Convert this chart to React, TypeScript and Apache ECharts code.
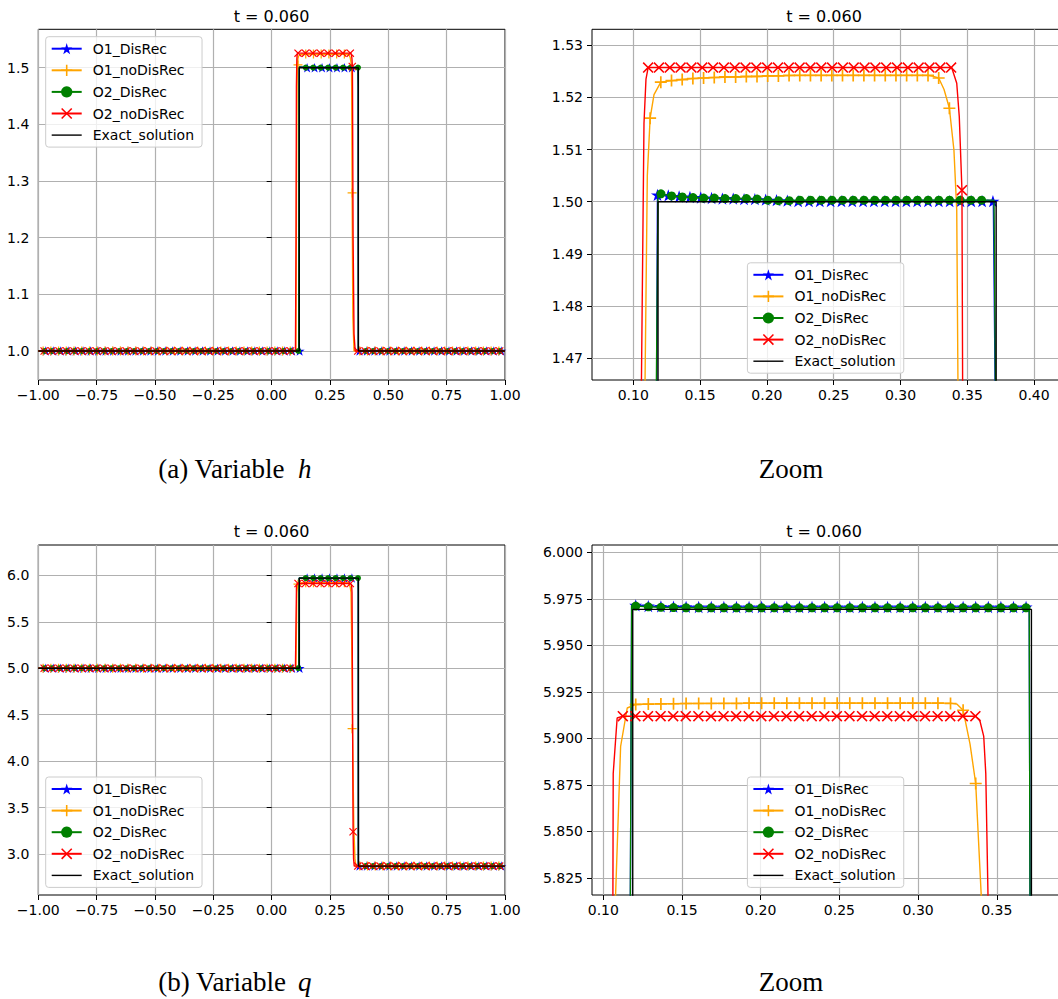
import React, { useEffect, useRef } from 'react';
import * as echarts from 'echarts';

const NAMES = ['O1_DisRec', 'O1_noDisRec', 'O2_DisRec', 'O2_noDisRec', 'Exact_solution'];
const COLORS = ['#0000ff', '#ffa500', '#008000', '#ff0000', '#000000'];
const STAR = 'path://M0,-100L22.45,-30.9L95.11,-30.9L36.33,11.8L58.78,80.9L0,38.2L-58.78,80.9L-36.33,11.8L-95.11,-30.9L-22.45,-30.9Z';
const PLUS = 'path://M-50,-7H50V7H-50Z M-7,-50H7V50H-7Z';
const CROSS = 'path://M-50,-40L-40,-50L0,-10L40,-50L50,-40L10,0L50,40L40,50L0,10L-40,50L-50,40L-10,0Z';
const SYMBOLS = [STAR, PLUS, 'circle', CROSS];
const EXACT_ICON = 'path://M0,0H30V1.4H0Z';
const TITLE = 't = 0.060';
const FONT = "'DejaVu Sans', sans-serif";
const SERIF = "'Liberation Serif', serif";

// ---------- variable h : solution profiles (x, h) ----------
const hPathO1DisRec = [[-1, 1], [0.1165, 1], [0.1175, 1.4658], [0.1181, 1.5013], [0.1262, 1.5012], [0.1343, 1.501], [0.1424, 1.5009], [0.1505, 1.5008], [0.1586, 1.5007], [0.1667, 1.5006], [0.1748, 1.5006], [0.1829, 1.5005], [0.191, 1.5005], [0.1991, 1.5004], [0.2072, 1.5003], [0.2153, 1.5002], [0.2234, 1.5001], [0.3695, 1.5001], [0.3708, 1.4658], [0.3716, 1], [1, 1]];
const hPathO1NoDisRec = [[-1, 1], [0.104, 1], [0.1065, 1.3], [0.1088, 1.4658], [0.1105, 1.505], [0.1126, 1.516], [0.1155, 1.5205], [0.1206, 1.5229], [0.1286, 1.5232], [0.1366, 1.5234], [0.1446, 1.5236], [0.1526, 1.5237], [0.1606, 1.5238], [0.1766, 1.5239], [0.1926, 1.524], [0.2086, 1.5241], [0.2246, 1.5242], [0.3206, 1.5242], [0.3246, 1.524], [0.3286, 1.5237], [0.3326, 1.5215], [0.3366, 1.5179], [0.34, 1.5099], [0.3421, 1.4984], [0.343, 1.4658], [0.3448, 1.279], [0.348, 1.06], [0.353, 1], [1, 1]];
const hPathO2DisRec = [[-1, 1], [0.1163, 1], [0.1173, 1.4658], [0.1185, 1.5015], [0.1207, 1.5015], [0.1287, 1.5011], [0.1367, 1.5009], [0.1447, 1.5008], [0.1527, 1.5007], [0.1607, 1.5007], [0.1687, 1.5006], [0.1767, 1.5006], [0.1847, 1.5006], [0.1927, 1.5005], [0.2007, 1.5003], [0.2087, 1.5002], [0.2167, 1.5002], [0.2247, 1.5003], [0.37, 1.5003], [0.371, 1.4658], [0.3716, 1], [1, 1]];
const hPathO2NoDisRec = [[-1, 1], [0.102, 1], [0.1045, 1.2], [0.1061, 1.4658], [0.108, 1.515], [0.1095, 1.5235], [0.1111, 1.5257], [0.3383, 1.5257], [0.3421, 1.5227], [0.344, 1.5163], [0.346, 1.5022], [0.3465, 1.4658], [0.349, 1.2], [0.353, 1.03], [0.358, 1], [1, 1]];
const hPathExact = [[-1, 1], [0.1185, 1], [0.1185, 1.5], [0.3716, 1.5], [0.3716, 1], [1, 1]];

// ---------- variable q : solution profiles (x, q) ----------
const qPathO1DisRec = [[-1, 5], [0.1163, 5], [0.1172, 5.8159], [0.118, 5.9716], [0.1206, 5.9716], [0.1286, 5.9712], [0.1366, 5.971], [0.1446, 5.9709], [0.1526, 5.9708], [0.1606, 5.9707], [0.3706, 5.9707], [0.3711, 5.8159], [0.3718, 2.87], [1, 2.87]];
const qPathO1NoDisRec = [[-1, 5], [0.104, 5], [0.1065, 5.5], [0.1078, 5.8159], [0.111, 5.8957], [0.1152, 5.9164], [0.1206, 5.9183], [0.1286, 5.9185], [0.1366, 5.9186], [0.1446, 5.9187], [0.1526, 5.9188], [0.1926, 5.919], [0.3206, 5.919], [0.3246, 5.9185], [0.3286, 5.9152], [0.333, 5.897], [0.3366, 5.8758], [0.3401, 5.8159], [0.343, 5.3], [0.3465, 4.349], [0.352, 3.3], [0.357, 2.95], [0.361, 2.87], [1, 2.87]];
const qPathO2DisRec = [[-1, 5], [0.1163, 5], [0.1172, 5.8159], [0.118, 5.9712], [0.1206, 5.9712], [0.1286, 5.9708], [0.1366, 5.9705], [0.1446, 5.9704], [0.1526, 5.9703], [0.3706, 5.9703], [0.3711, 5.8159], [0.3716, 2.87], [1, 2.87]];
const qPathO2NoDisRec = [[-1, 5], [0.102, 5], [0.1045, 5.5], [0.1061, 5.8159], [0.1063, 5.8812], [0.1088, 5.911], [0.1124, 5.912], [0.3364, 5.912], [0.3391, 5.9101], [0.3417, 5.9011], [0.343, 5.8812], [0.3444, 5.8159], [0.346, 5], [0.349, 3.24], [0.351, 2.95], [0.354, 2.87], [1, 2.87]];
const qPathExact = [[-1, 5], [0.1187, 5], [0.1187, 5.9694], [0.372, 5.9694], [0.372, 2.87], [1, 2.87]];

// ---------- markers, full domain panels (mesh start / spacing of the marked cells) ----------
const FULL_MARK_START = [-0.968, -0.9793, -0.974, -0.9749];
const FULL_MARK_STEP = [0.032, 0.0331, 0.032, 0.032];
const hFullLevels = [[1.0, 1.5001, 1.0], [1.0, 1.524, 1.0], [1.0, 1.5002, 1.0], [1.0, 1.5257, 1.0]];
const hFullBreaks = [[0.121, 0.3715], [0.108, 0.343], [0.118, 0.3716], [0.108, 0.345]];
const hFullOverrides = [[], [[33, 1.505], [40, 1.279]], [], []];
const hFullExtras = [[], [], [], [[0.3455, 1.5022]]];
const qFullLevels = [[5.0, 5.9707, 2.87], [5.0, 5.919, 2.87], [5.0, 5.9703, 2.87], [5.0, 5.912, 2.87]];
const qFullBreaks = [[0.121, 0.3715], [0.108, 0.343], [0.118, 0.3716], [0.108, 0.345]];
const qFullOverrides = [[], [[33, 5.905], [40, 4.349]], [], []];
const qFullExtras = [[], [], [], [[0.349, 3.24]]];

// ---------- markers, zoom panels ----------
const hZoomStart = [0.1181, 0.1126, 0.1207, 0.1111];
const hZoomStep = [0.0081, 0.008, 0.008, 0.0081];
const hZoomO1DisRec = [1.5013, 1.5012, 1.501, 1.5009, 1.5008, 1.5007, 1.5006, 1.5006, 1.5005, 1.5005, 1.5004, 1.5003, 1.5002, 1.5001, 1.5001, 1.5001, 1.5001, 1.5001, 1.5001, 1.5001, 1.5001, 1.5001, 1.5001, 1.5001, 1.5001, 1.5001, 1.5001, 1.5001, 1.5001, 1.5001, 1.5001, 1.5001];
const hZoomO1NoDisRec = [1.516, 1.5229, 1.5232, 1.5234, 1.5236, 1.5237, 1.5238, 1.5239, 1.5239, 1.524, 1.524, 1.5241, 1.5241, 1.5242, 1.5242, 1.5242, 1.5242, 1.5242, 1.5242, 1.5242, 1.5242, 1.5242, 1.5242, 1.5242, 1.5242, 1.5242, 1.5242, 1.5237, 1.5179];
const hZoomO2DisRec = [1.5015, 1.5011, 1.5009, 1.5008, 1.5007, 1.5007, 1.5006, 1.5006, 1.5006, 1.5005, 1.5003, 1.5002, 1.5002, 1.5003, 1.5003, 1.5003, 1.5003, 1.5003, 1.5003, 1.5003, 1.5003, 1.5003, 1.5003, 1.5003, 1.5003, 1.5003, 1.5003, 1.5003, 1.5003, 1.5003, 1.5003];
const hZoomO2NoDisRec = [1.5257, 1.5257, 1.5257, 1.5257, 1.5257, 1.5257, 1.5257, 1.5257, 1.5257, 1.5257, 1.5257, 1.5257, 1.5257, 1.5257, 1.5257, 1.5257, 1.5257, 1.5257, 1.5257, 1.5257, 1.5257, 1.5257, 1.5257, 1.5257, 1.5257, 1.5257, 1.5257, 1.5257, 1.5257, 1.5022];
const qZoomStart = [0.1206, 0.1206, 0.1206, 0.1124];
const qZoomStep = [0.008, 0.008, 0.008, 0.008];
const qZoomO1DisRec = [5.9716, 5.9712, 5.971, 5.9709, 5.9708, 5.9707, 5.9707, 5.9707, 5.9707, 5.9707, 5.9707, 5.9707, 5.9707, 5.9707, 5.9707, 5.9707, 5.9707, 5.9707, 5.9707, 5.9707, 5.9707, 5.9707, 5.9707, 5.9707, 5.9707, 5.9707, 5.9707, 5.9707, 5.9707, 5.9707, 5.9707, 5.9707];
const qZoomO1NoDisRec = [5.9183, 5.9185, 5.9186, 5.9187, 5.9188, 5.9188, 5.9188, 5.9188, 5.9188, 5.919, 5.919, 5.919, 5.919, 5.919, 5.919, 5.919, 5.919, 5.919, 5.919, 5.919, 5.919, 5.919, 5.919, 5.919, 5.919, 5.9188, 5.9152, 5.8758];
const qZoomO2DisRec = [5.9712, 5.9708, 5.9705, 5.9704, 5.9703, 5.9703, 5.9703, 5.9703, 5.9703, 5.9703, 5.9703, 5.9703, 5.9703, 5.9703, 5.9703, 5.9703, 5.9703, 5.9703, 5.9703, 5.9703, 5.9703, 5.9703, 5.9703, 5.9703, 5.9703, 5.9703, 5.9703, 5.9703, 5.9703, 5.9703, 5.9703, 5.9703];
const qZoomO2NoDisRec = [5.912, 5.912, 5.912, 5.912, 5.912, 5.912, 5.912, 5.912, 5.912, 5.912, 5.912, 5.912, 5.912, 5.912, 5.912, 5.912, 5.912, 5.912, 5.912, 5.912, 5.912, 5.912, 5.912, 5.912, 5.912, 5.912, 5.912, 5.912, 5.912];

// ---------- ticks ----------
const fullXTicks = [-1, -0.75, -0.5, -0.25, 0, 0.25, 0.5, 0.75, 1];
const hFullYTicks = [1.0, 1.1, 1.2, 1.3, 1.4, 1.5];
const qFullYTicks = [3.0, 3.5, 4.0, 4.5, 5.0, 5.5, 6.0];
const hZoomXTicks = [0.1, 0.15, 0.2, 0.25, 0.3, 0.35, 0.4];
const hZoomYTicks = [1.47, 1.48, 1.49, 1.5, 1.51, 1.52, 1.53];
const qZoomXTicks = [0.1, 0.15, 0.2, 0.25, 0.3, 0.35];
const qZoomYTicks = [5.825, 5.85, 5.875, 5.9, 5.925, 5.95, 5.975, 6.0];

function fmt(v: number, d: number) {
  return Number(v).toFixed(d).replace('-', '\u2212');
}

function fullMarkers(i: number, levels: number[][], breaks: number[][], overrides: number[][][], extras: number[][][]) {
  const pts: number[][] = [];
  for (let k = 0; k < 200; k++) {
    const x = +(FULL_MARK_START[i] + k * FULL_MARK_STEP[i]).toFixed(4);
    if (x > 1.0001) break;
    let y = x < breaks[i][0] ? levels[i][0] : x < breaks[i][1] ? levels[i][1] : levels[i][2];
    const o = overrides[i].find((e) => e[0] === k);
    if (o) y = o[1];
    pts.push([x, y]);
  }
  return pts.concat(extras[i]);
}

function zoomMarkers(start: number, step: number, ys: number[]) {
  return ys.map((y, k) => [+(start + k * step).toFixed(4), y]);
}

function axis(gi: number, min: number, max: number, step: number, ticks: number[], dec: number, isX: boolean) {
  return {
    type: 'value', gridIndex: gi, min, max, minInterval: step, maxInterval: step,
    splitNumber: Math.round((max - min) / step),
    axisLine: { show: false },
    axisTick: { show: true, inside: false, length: 5, lineStyle: { color: '#000', width: 1 }, customValues: ticks },
    axisLabel: { show: true, customValues: ticks, formatter: (v: number) => fmt(v, dec), color: '#000', fontSize: 14, fontFamily: FONT, margin: isX ? 8 : 9 },
    splitLine: { show: true, lineStyle: { color: '#b0b0b0', width: 1.2 } },
  };
}

function grid(left: number, top: number, height: number) {
  return { left, top, width: 466.7, height, show: true, borderColor: '#000', borderWidth: 1, backgroundColor: 'rgba(0,0,0,0)', containLabel: false, outerBoundsMode: 'none' };
}

function legendAt(left: number, top: number) {
  return {
    orient: 'vertical', left, top, itemWidth: 30, itemHeight: 14, itemGap: 7.6, padding: [5, 8, 5, 5],
    backgroundColor: 'rgba(255,255,255,0.8)', borderColor: '#cccccc', borderWidth: 1, borderRadius: 3,
    selectedMode: false, z: 50,
    textStyle: { fontFamily: FONT, fontSize: 14, color: '#000', padding: [0, 0, 0, 6] },
    data: NAMES.map((n, i) => (i === 4 ? { name: n, icon: EXACT_ICON } : { name: n })),
  };
}

function panelSeries(gi: number, paths: number[][][], markers: number[][][], sizes: number[]) {
  const s: any[] = [];
  let z = 2;
  for (let i = 0; i < 5; i++) {
    s.push({
      type: 'line', name: NAMES[i], xAxisIndex: gi, yAxisIndex: gi, data: paths[i],
      showSymbol: false, symbol: i < 4 ? SYMBOLS[i] : 'none', symbolKeepAspect: true,
      lineStyle: { color: COLORS[i], width: 1.4 }, itemStyle: { color: COLORS[i] },
      silent: true, z: z++, clip: true,
    });
    if (i < 4) {
      s.push({
        type: 'scatter', name: NAMES[i], xAxisIndex: gi, yAxisIndex: gi, data: markers[i],
        symbol: SYMBOLS[i], symbolSize: sizes[i], symbolKeepAspect: true,
        itemStyle: { color: COLORS[i], opacity: 1 }, silent: true, z: z++, clip: true,
      });
    }
  }
  return s;
}

function txt(x: number, y: number, text: string, size: number, family: string, align: string, italic = false) {
  return {
    type: 'text', x, y, silent: true,
    style: { text, fontSize: size, fontFamily: family, fontStyle: italic ? 'italic' : 'normal', fill: '#000', align, verticalAlign: 'middle' },
  };
}

function leftOption() {
  const hPaths = [hPathO1DisRec, hPathO1NoDisRec, hPathO2DisRec, hPathO2NoDisRec, hPathExact];
  const qPaths = [qPathO1DisRec, qPathO1NoDisRec, qPathO2DisRec, qPathO2NoDisRec, qPathExact];
  const hMarks = [0, 1, 2, 3].map((i) => fullMarkers(i, hFullLevels, hFullBreaks, hFullOverrides, hFullExtras));
  const qMarks = [0, 1, 2, 3].map((i) => fullMarkers(i, qFullLevels, qFullBreaks, qFullOverrides, qFullExtras));
  const sizes = [10, 9, 6, 8];
  return {
    animation: false,
    backgroundColor: 'rgba(0,0,0,0)',
    grid: [grid(38.3, 29.3, 350.7), grid(38.3, 545, 350)],
    xAxis: [axis(0, -1, 1, 0.25, fullXTicks, 2, true), axis(1, -1, 1, 0.25, fullXTicks, 2, true)],
    yAxis: [axis(0, 0.9488, 1.5678, 0.1, hFullYTicks, 1, false), axis(1, 2.5587, 6.3262, 0.5, qFullYTicks, 1, false)],
    legend: [legendAt(45.7, 36.7), legendAt(45.7, 777)],
    series: [...panelSeries(0, hPaths, hMarks, sizes), ...panelSeries(1, qPaths, qMarks, sizes)],
    graphic: [
      txt(271.5, 16, TITLE, 16, FONT, 'center'),
      txt(271.5, 531, TITLE, 16, FONT, 'center'),
      txt(158.3, 469, '(a) Variable', 27, SERIF, 'left'),
      txt(298, 469, 'h', 27, SERIF, 'left', true),
      txt(158.3, 982, '(b) Variable', 27, SERIF, 'left'),
      txt(298, 982, 'q', 27, SERIF, 'left', true),
    ],
  };
}

function rightOption() {
  const hPaths = [hPathO1DisRec, hPathO1NoDisRec, hPathO2DisRec, hPathO2NoDisRec, hPathExact];
  const qPaths = [qPathO1DisRec, qPathO1NoDisRec, qPathO2DisRec, qPathO2NoDisRec, qPathExact];
  const hYs = [hZoomO1DisRec, hZoomO1NoDisRec, hZoomO2DisRec, hZoomO2NoDisRec];
  const qYs = [qZoomO1DisRec, qZoomO1NoDisRec, qZoomO2DisRec, qZoomO2NoDisRec];
  const hMarks = hYs.map((ys, i) => zoomMarkers(hZoomStart[i], hZoomStep[i], ys));
  const qMarks = qYs.map((ys, i) => zoomMarkers(qZoomStart[i], qZoomStep[i], ys));
  const sizes = [13, 12, 9, 11];
  return {
    animation: false,
    backgroundColor: 'rgba(0,0,0,0)',
    grid: [grid(75, 29.3, 350.7), grid(75, 545, 350)],
    xAxis: [axis(0, 0.06909, 0.41842, 0.05, hZoomXTicks, 2, true), axis(1, 0.09282, 0.38933, 0.05, qZoomXTicks, 2, true)],
    yAxis: [axis(0, 1.46584, 1.53303, 0.01, hZoomYTicks, 2, false), axis(1, 5.81586, 6.00403, 0.025, qZoomYTicks, 3, false)],
    legend: [legendAt(230.4, 262.8), legendAt(230.4, 777)],
    series: [...panelSeries(0, hPaths, hMarks, sizes), ...panelSeries(1, qPaths, qMarks, sizes)],
    graphic: [
      txt(307, 16, TITLE, 16, FONT, 'center'),
      txt(307, 531, TITLE, 16, FONT, 'center'),
      txt(274, 469, 'Zoom', 27, SERIF, 'center'),
      txt(274, 982, 'Zoom', 27, SERIF, 'center'),
    ],
  };
}

export default function App() {
  const leftRef = useRef<HTMLDivElement>(null);
  const rightRef = useRef<HTMLDivElement>(null);
  useEffect(() => {
    const c1 = echarts.init(leftRef.current as HTMLDivElement, null, { renderer: 'svg' });
    c1.setOption(leftOption() as any);
    const c2 = echarts.init(rightRef.current as HTMLDivElement, null, { renderer: 'svg' });
    c2.setOption(rightOption() as any);
    return () => {
      c1.dispose();
      c2.dispose();
    };
  }, []);
  return (
    <div style={{ position: 'absolute', left: 0, top: 0, width: 1058, height: 999, background: '#fff', overflow: 'hidden' }}>
      <div style={{ position: 'absolute', left: 0, top: 0, width: 530, height: 999, overflow: 'hidden' }}>
        <div ref={leftRef} style={{ width: 560, height: 999 }} />
      </div>
      <div style={{ position: 'absolute', left: 517, top: 0, width: 541, height: 999, overflow: 'hidden' }}>
        <div ref={rightRef} style={{ width: 560, height: 999 }} />
      </div>
    </div>
  );
}
